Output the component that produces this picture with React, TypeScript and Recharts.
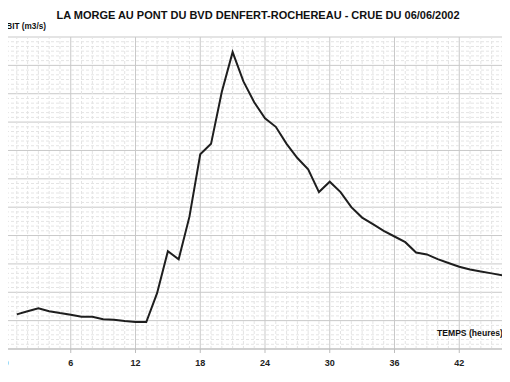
import {
  LineChart,
  Line,
  XAxis,
  YAxis,
  CartesianGrid,
  ReferenceLine,
} from "recharts";

// hydrogramme de crue, débit horaire (m3/s)
const HOURS = [
  1, 2, 3, 4, 5, 6, 7, 8, 9, 10, 11, 12, 13, 14, 15, 16, 17, 18, 19, 20, 21,
  22, 23, 24, 25, 26, 27, 28, 29, 30, 31, 32, 33, 34, 35, 36, 37, 38, 39, 40,
  41, 42, 43, 44, 45, 46, 47,
];
const DEBIT = [
  3.66, 4.0, 4.3, 4.0, 3.8, 3.63, 3.42, 3.4, 3.15, 3.1, 2.95, 2.85, 2.85, 5.9,
  10.35, 9.5, 14.0, 20.6, 21.7, 27.2, 31.4, 28.3, 26.1, 24.4, 23.5, 21.7, 20.2,
  19.0, 16.6, 17.7, 16.6, 15.0, 13.9, 13.2, 12.5, 11.9, 11.3, 10.2, 10.0, 9.5,
  9.1, 8.7, 8.4, 8.2, 8.0, 7.8, 7.6,
];

const X_TICKS = [0, 6, 12, 18, 24, 30, 36, 42];
const Y_TICKS = [0, 3, 6, 9, 12, 15, 18, 21, 24, 27, 30, 33];
const X_MINOR = Array.from({ length: 49 }, (_, i) => i).filter((h) => h % 6 !== 0);
const Y_MINOR = Array.from({ length: 67 }, (_, i) => i * 0.5).filter((v) => v % 3 !== 0);

const data = HOURS.map((h, i) => ({ h, q: DEBIT[i] }));

const FONT = "'Liberation Sans', Arial, sans-serif";

const HourTick = (props: any) => {
  const { x, y, payload } = props;
  return (
    <text
      x={x}
      y={y + 11}
      textAnchor="middle"
      fill="#222"
      fontSize={9}
      fontWeight="bold"
      fontFamily={FONT}
    >
      {payload.value}
    </text>
  );
};

export default function App() {
  return (
    <div
      style={{
        position: "relative",
        width: 510,
        height: 382,
        overflow: "hidden",
        background: "#fff",
        margin: -8,
        fontFamily: FONT,
      }}
    >
      <div style={{ position: "absolute", left: 0, right: 0, top: 4, borderTop: "1px solid #e8e8e8" }} />
      <div style={{ position: "absolute", left: 0, right: 0, top: 377, borderTop: "2px solid #e6e6e6" }} />
      <div
        style={{
          position: "absolute",
          left: 0,
          width: 516,
          top: 9,
          textAlign: "center",
          fontWeight: "bold",
          fontSize: 11,
          color: "#111",
          whiteSpace: "nowrap",
        }}
      >
        LA MORGE AU PONT DU BVD DENFERT-ROCHEREAU - CRUE DU 06/06/2002
      </div>
      <div
        style={{
          position: "absolute",
          left: -5,
          top: 22,
          fontWeight: "bold",
          fontSize: 8.2,
          color: "#111",
          whiteSpace: "nowrap",
        }}
      >
        DEBIT (m3/s)
      </div>
      <div
        style={{
          position: "absolute",
          left: 437,
          top: 328,
          fontWeight: "bold",
          fontSize: 8.6,
          color: "#111",
          whiteSpace: "nowrap",
          zIndex: 2,
        }}
      >
        TEMPS (heures)
      </div>
      <div style={{ position: "absolute", left: -30, top: 0 }}>
        <LineChart
          width={554}
          height={382}
          data={data}
          margin={{ top: 37, right: 0, left: 0, bottom: 0 }}
        >
          {X_MINOR.map((h) => (
            <ReferenceLine key={"x" + h} x={h} stroke="#e4e4e4" strokeDasharray="3 2" />
          ))}
          {Y_MINOR.map((v) => (
            <ReferenceLine key={"y" + v} y={v} stroke="#e4e4e4" strokeDasharray="3 2" />
          ))}
          <CartesianGrid stroke="#c9c9c9" strokeWidth={1} />
          <XAxis
            dataKey="h"
            type="number"
            domain={[0, 48]}
            ticks={X_TICKS}
            interval={0}
            height={33}
            tickSize={4}
            stroke="#bdbdbd"
            tick={<HourTick />}
          />
          <YAxis
            type="number"
            domain={[0, 33]}
            ticks={Y_TICKS}
            interval={0}
            width={36}
            tickSize={6}
            tickMargin={4}
            stroke="#bdbdbd"
            tick={{ fill: "#222", fontSize: 9, fontWeight: "bold", fontFamily: FONT }}
          />
          <Line
            dataKey="q"
            stroke="#1e1e1e"
            strokeWidth={2}
            dot={false}
            isAnimationActive={false}
          />
        </LineChart>
      </div>
    </div>
  );
}
